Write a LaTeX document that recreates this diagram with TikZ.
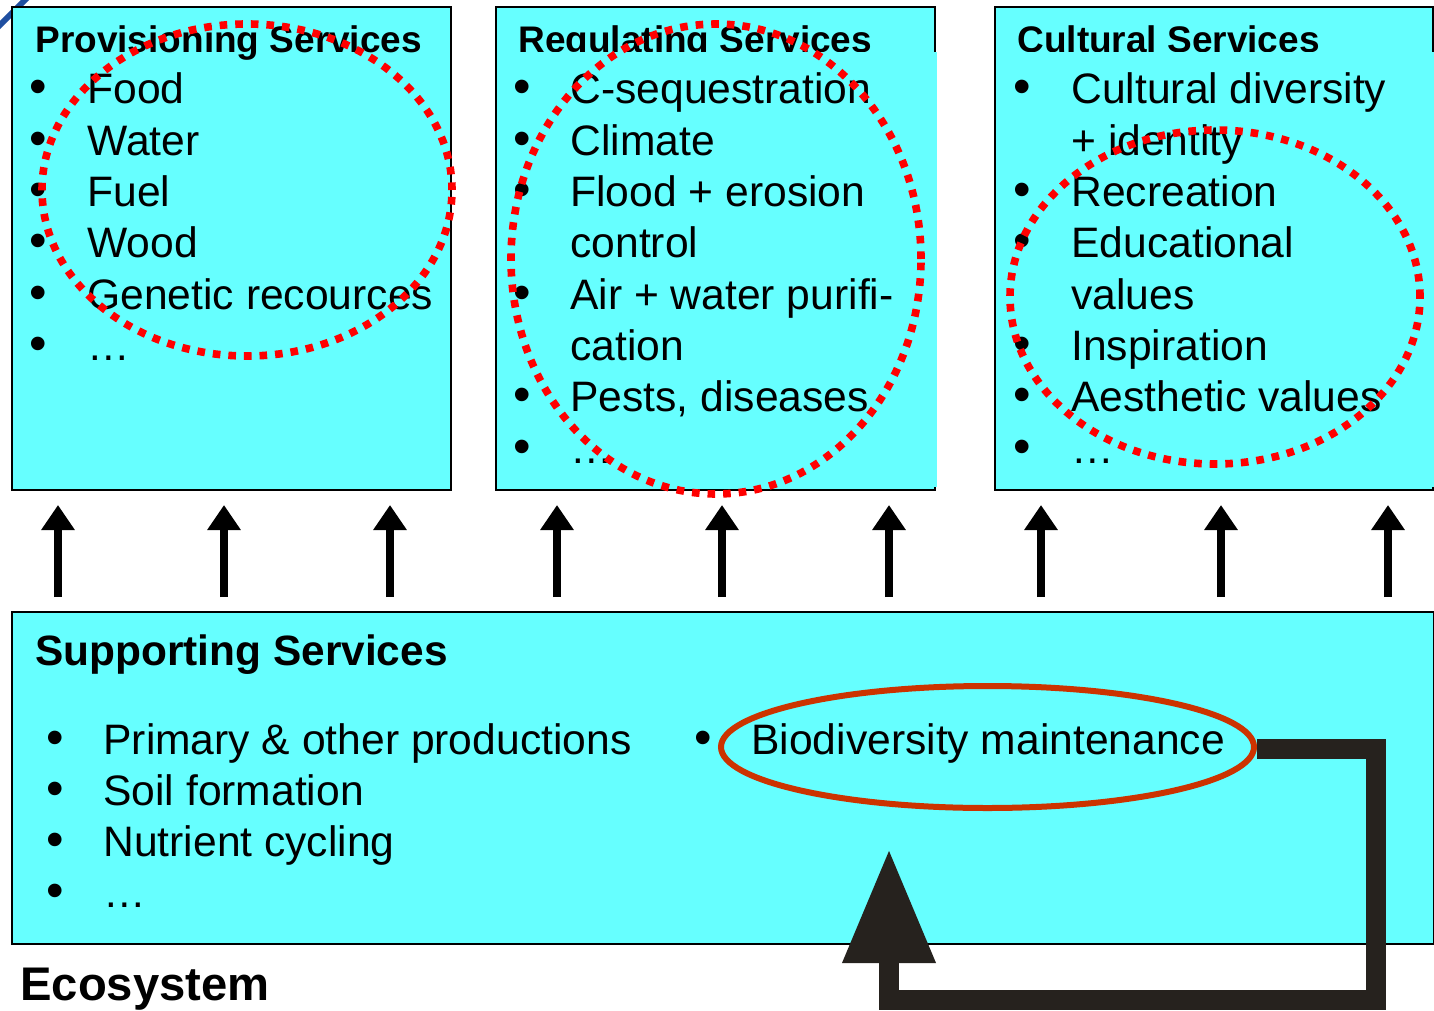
\documentclass[tikz,border=0pt]{standalone}
\usepackage{fontspec}
\setmainfont{Liberation Sans}
\usetikzlibrary{arrows.meta,shapes.geometric}
\definecolor{cy}{HTML}{66FFFF}
\definecolor{ellc}{HTML}{CC3300}
\definecolor{fbc}{HTML}{26221E}
\definecolor{artblue}{HTML}{1F4FA0}
\begin{document}
\begin{tikzpicture}[x=0.5pt,y=-0.5pt,
  box/.style={draw=black, line width=1pt, fill=cy, anchor=north west, inner sep=0pt, outer sep=0pt},
  tit/.style={font=\bfseries\fontsize{18.5}{22}\selectfont, anchor=base west, inner sep=0pt},
  itm/.style={font=\fontsize{21.3}{25}\selectfont, anchor=base west, inner sep=0pt},
  bul/.style={font=\fontsize{25}{30}\selectfont, anchor=base, inner sep=0pt},
  redcirc/.style={draw=red, line width=3.8pt, dash pattern=on 3.8pt off 4pt},
  uparrow/.style={line width=4pt, -{Triangle[width=16pt,length=12.5pt]}},
  fb/.style={draw=fbc, line width=10pt, line join=miter, -{Triangle[width=44pt,length=57pt]}}
]
\useasboundingbox (0,0) rectangle (1434,1011);

% blue artifact
\draw[artblue, line width=3pt] (-2,27) -- (27,-2);

% upper boxes
\node[box, minimum width=219.5pt, minimum height=241.5pt] (prov) at (12,7) {};
\node[box, minimum width=219.5pt, minimum height=241.5pt] (reg) at (496,7) {};
\node[box, minimum width=219pt, minimum height=241.5pt] (cult) at (995,7) {};

% titles
\node[tit] (tprov) at (35,53) {Provisioning Services};
\node[tit] (treg) at (518,53) {Regulating Services};
\node[tit] (tcult) at (1017,53) {Cultural Services};

% cyan overlays (clipping titles and right borders)
\fill[cy] (497.5,52) rectangle (936.5,487);
\fill[cy] (996.5,52) rectangle (1435,487);

% box 1 items
\foreach \t [count=\i from 0] in {Food,Water,Fuel,Wood,Genetic recources,…}{
  \node[bul] (pb\i) at (38,104+51.3*\i) {•};
  \node[itm] (pt\i) at (87,104+51.3*\i) {\t};
}
% box 2 items
\foreach \b/\t [count=\i from 0] in {1/C-sequestration,1/Climate,1/Flood + erosion,0/control,1/Air + water purifi-,0/cation,1/{Pests, diseases},1/…}{
  \ifnum\b=1 \node[bul] (rb\i) at (522,104+51.3*\i) {•};\fi
  \node[itm] (rt\i) at (570,104+51.3*\i) {\t};
}
% box 3 items
\foreach \b/\t [count=\i from 0] in {1/Cultural diversity,0/+ identity,1/Recreation,1/Educational,0/values,1/Inspiration,1/Aesthetic values,1/…}{
  \ifnum\b=1 \node[bul] (cb\i) at (1022,104+51.3*\i) {•};\fi
  \node[itm] (ct\i) at (1071,104+51.3*\i) {\t};
}

% dotted red circles
\draw[redcirc] (247,190) ellipse [x radius=102.5pt, y radius=83pt];
\draw[redcirc] (716,259) ellipse [x radius=102.5pt, y radius=117.5pt];
\draw[redcirc] (1215,297) ellipse [x radius=102.5pt, y radius=83.5pt];

% supporting box
\node[box, minimum width=711pt, minimum height=166pt] (sup) at (12,612) {};
\node[tit, font=\bfseries\fontsize{21.2}{25}\selectfont] (tsup) at (35,665) {Supporting Services};
\foreach \t [count=\i from 0] in {Primary \& other productions,Soil formation,Nutrient cycling,…}{
  \node[bul] (sb\i) at (55,754+51.3*\i) {•};
  \node[itm] (st\i) at (103,754+51.3*\i) {\t};
}
\node[bul] (bb) at (703,754) {•};
\node[itm] (bt) at (751,754) {Biodiversity maintenance};
\node[draw=ellc, line width=3pt, ellipse, minimum width=266.5pt, minimum height=61pt, inner sep=0pt] (bio) at (987.5,747) {};

% up arrows
\foreach \x in {58,224,390,557,722,889,1041,1221,1388}{
  \draw[uparrow] (\x,597) -- (\x,505);
}

% Ecosystem label
\node[tit, font=\bfseries\fontsize{23.6}{28}\selectfont] (eco) at (20,1000) {Ecosystem};

% feedback arrow
\coordinate (fbs) at (1257,749);
\coordinate (fbtip) at (889,849);
\draw[fb] (fbs) -- (1376,749) -- (1376,1000) -- (889,1000) -- (fbtip);

\end{tikzpicture}
\end{document}
